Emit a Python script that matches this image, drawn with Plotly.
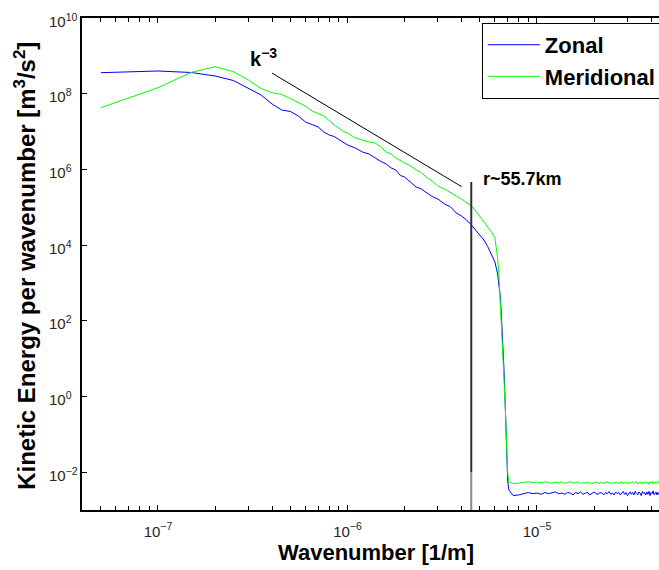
import plotly.graph_objects as go
import numpy as np

# ---- data ----
wavenumber = [0.05e-6, 0.10e-6, 0.15e-6, 0.20e-6, 0.25e-6, 0.30e-6, 0.35e-6, 0.40e-6, 0.45e-6, 0.50e-6,
              0.55e-6, 0.60e-6, 0.65e-6, 0.70e-6, 0.75e-6, 0.80e-6, 0.85e-6, 0.90e-6, 0.95e-6, 1.00e-6,
              1.1e-6, 1.2e-6, 1.3e-6, 1.4e-6, 1.5e-6, 1.6e-6, 1.7e-6, 1.8e-6, 1.9e-6, 2.0e-6,
              2.15e-6, 2.3e-6, 2.45e-6, 2.6e-6, 2.8e-6, 3.0e-6,
              3.25e-6, 3.5e-6, 3.75e-6, 4.0e-6, 4.25e-6, 4.5e-6, 4.75e-6, 5.0e-6,
              5.25e-6, 5.5e-6, 5.8e-6, 6.0e-6,
              6.2e-6, 6.3e-6, 6.4e-6, 6.5e-6, 6.6e-6, 6.7e-6, 6.8e-6, 6.9e-6, 7.0e-6, 7.1e-6]

zonal = [3.59e8, 3.98e8, 3.63e8, 2.94e8, 2.23e8, 1.42e8, 9.25e7, 5.35e7, 3.71e7, 3.39e7,
         2.58e7, 1.79e7, 1.49e7, 1.32e7, 9.73e6, 8.11e6, 7.40e6, 6.17e6, 4.98e6, 4.42e6,
         3.67e6, 2.88e6, 2.55e6, 2.00e6, 1.62e6, 1.39e6, 1.09e6, 9.64e5, 6.90e5, 6.30e5,
         4.65e5, 3.43e5, 3.03e5, 2.53e5, 1.92e5, 1.65e5,
         1.22e5, 1.02e5, 7.05e4, 5.87e4, 4.60e4, 3.40e4, 2.51e4, 1.85e4,
         1.36e4, 9.08e3, 5.15e3, 3.58e3,
         1.72e3, 998, 426, 119, 27.5, 5.01, 0.596, 0.0524, 6.22e-3, 3.39e-3]

meridional = [4.27e7, 1.44e8, 3.67e8, 5.17e8, 3.81e8, 2.30e8, 1.37e8, 1.06e8, 9.53e7, 7.47e7,
              6.04e7, 4.73e7, 3.49e7, 2.91e7, 2.58e7, 1.96e7, 1.49e7, 1.24e7, 1.00e7, 9.16e6,
              6.76e6, 5.98e6, 5.30e6, 4.98e6, 3.91e6, 2.88e6, 2.55e6, 2.00e6, 1.67e6, 1.48e6,
              1.23e6, 9.64e5, 8.28e5, 6.30e5, 4.94e5, 3.64e5,
              3.03e5, 2.38e5, 1.98e5, 1.65e5, 1.29e5, 1.08e5, 7.96e4, 5.62e4,
              4.07e4, 3.01e4, 2.09e4, 1.54e4,
              4.56e3, 1.62e3, 355, 105, 23.0, 4.44, 0.596, 0.0710, 0.0101, 5.51e-3]

tail_wavenumber = [7.5e-6, 8.0e-6, 8.5e-6, 9.0e-6, 9.5e-6, 10.0e-6, 10.5e-6, 11.0e-6, 11.5e-6, 12.0e-6,
                   12.5e-6, 13.0e-6, 13.5e-6, 14.0e-6, 14.5e-6, 15.0e-6, 15.5e-6, 16.0e-6, 16.5e-6, 17.0e-6,
                   17.5e-6, 18.0e-6, 18.5e-6, 19.0e-6, 19.5e-6, 20.0e-6, 20.5e-6, 21.0e-6, 21.5e-6, 22.0e-6,
                   22.5e-6, 23.0e-6, 23.5e-6, 24.0e-6, 24.5e-6, 25.0e-6, 25.5e-6, 26.0e-6, 26.5e-6, 27.0e-6,
                   27.5e-6, 28.0e-6, 28.5e-6, 29.0e-6, 29.5e-6, 30.0e-6, 30.5e-6, 31.0e-6, 31.5e-6, 32.0e-6,
                   32.5e-6, 33.0e-6, 33.5e-6, 34.0e-6, 34.5e-6, 35.0e-6, 35.5e-6, 36.0e-6, 36.5e-6, 37.0e-6,
                   37.5e-6, 38.0e-6, 38.5e-6, 39.0e-6, 39.5e-6, 40.0e-6, 40.5e-6, 41.0e-6, 41.5e-6, 42.0e-6,
                   42.5e-6, 43.0e-6, 43.5e-6, 44.0e-6, 44.5e-6, 45.0e-6]

zonal_tail = [2.4e-3, 2.5e-3, 2.7e-3, 2.9e-3, 2.7e-3, 2.8e-3, 2.6e-3, 2.9e-3, 2.7e-3, 2.8e-3,
              3.0e-3, 2.7e-3, 2.8e-3, 2.6e-3, 2.9e-3, 2.8e-3, 2.5e-3, 2.9e-3, 2.7e-3, 3.0e-3,
              2.6e-3, 2.8e-3, 2.9e-3, 2.5e-3, 2.8e-3, 3.0e-3, 2.7e-3, 2.6e-3, 2.9e-3, 2.8e-3,
              2.5e-3, 2.9e-3, 2.7e-3, 3.1e-3, 2.6e-3, 2.8e-3, 2.5e-3, 3.0e-3, 2.7e-3, 2.9e-3,
              2.5e-3, 2.8e-3, 3.1e-3, 2.6e-3, 2.9e-3, 2.4e-3, 2.8e-3, 3.0e-3, 2.6e-3, 2.9e-3,
              2.5e-3, 3.1e-3, 2.7e-3, 2.5e-3, 3.0e-3, 2.8e-3, 2.4e-3, 3.1e-3, 2.7e-3, 2.9e-3,
              2.5e-3, 3.0e-3, 2.6e-3, 3.1e-3, 2.4e-3, 2.9e-3, 2.7e-3, 3.2e-3, 2.5e-3, 2.8e-3,
              3.0e-3, 2.5e-3, 2.9e-3, 2.6e-3, 3.1e-3, 2.7e-3]

meridional_tail = [5.0e-3, 5.1e-3, 5.4e-3, 5.6e-3, 5.3e-3, 5.5e-3, 5.2e-3, 5.6e-3, 5.3e-3, 5.1e-3,
                   5.4e-3, 5.2e-3, 5.5e-3, 5.0e-3, 5.3e-3, 5.6e-3, 5.1e-3, 5.2e-3, 5.5e-3, 5.0e-3,
                   5.3e-3, 5.1e-3, 5.4e-3, 5.2e-3, 4.9e-3, 5.3e-3, 5.5e-3, 5.0e-3, 5.2e-3, 5.4e-3,
                   5.0e-3, 5.3e-3, 5.6e-3, 5.1e-3, 5.2e-3, 4.9e-3, 5.4e-3, 5.1e-3, 5.5e-3, 5.0e-3,
                   5.2e-3, 5.6e-3, 4.9e-3, 5.3e-3, 5.1e-3, 5.5e-3, 4.8e-3, 5.4e-3, 5.2e-3, 5.6e-3,
                   5.0e-3, 5.3e-3, 5.7e-3, 4.9e-3, 5.2e-3, 5.5e-3, 5.0e-3, 5.6e-3, 4.9e-3, 5.3e-3,
                   5.6e-3, 5.0e-3, 5.4e-3, 4.8e-3, 5.5e-3, 5.2e-3, 5.7e-3, 4.9e-3, 5.3e-3, 5.6e-3,
                   5.0e-3, 5.4e-3, 5.1e-3, 5.7e-3, 4.9e-3, 5.3e-3]

# reference slope line k^-3 and cutoff line
slope_k = [4.0e-7, 4.0e-6]
slope_E = [3.5e8, 3.5e5]
cutoff_k = [4.5e-6, 4.5e-6]
cutoff_E_dark = [4.65e5, 1.0e-2]
cutoff_E_light = [1.0e-2, 1.0e-3]

x_tickvals = [1e-7, 1e-6, 1e-5]
x_ticktext = ["10<sup>\u22127</sup>", "10<sup>\u22126</sup>", "10<sup>\u22125</sup>"]
x_minorvals = [4e-8, 5e-8, 6e-8, 7e-8, 8e-8, 9e-8,
               2e-7, 3e-7, 4e-7, 5e-7, 6e-7, 7e-7, 8e-7, 9e-7,
               2e-6, 3e-6, 4e-6, 5e-6, 6e-6, 7e-6, 8e-6, 9e-6,
               2e-5, 3e-5, 4e-5]
y_tickvals = [1e-2, 1e0, 1e2, 1e4, 1e6, 1e8, 1e10]
y_ticktext = ["10<sup>\u22122</sup>", "10<sup>0</sup>", "10<sup>2</sup>", "10<sup>4</sup>",
              "10<sup>6</sup>", "10<sup>8</sup>", "10<sup>10</sup>"]

FONT = "Liberation Sans, Arial, sans-serif"

k_all = wavenumber + tail_wavenumber
fig = go.Figure()
fig.add_trace(go.Scatter(x=k_all, y=zonal + zonal_tail, mode="lines", name="Zonal",
                         line=dict(color="#0000ff", width=1)))
fig.add_trace(go.Scatter(x=k_all, y=meridional + meridional_tail, mode="lines", name="Meridional",
                         line=dict(color="#00ff00", width=1)))
fig.add_trace(go.Scatter(x=slope_k, y=slope_E, mode="lines", showlegend=False,
                         line=dict(color="black", width=1)))
fig.add_trace(go.Scatter(x=cutoff_k, y=cutoff_E_dark, mode="lines", showlegend=False,
                         line=dict(color="#303030", width=2)))
fig.add_trace(go.Scatter(x=cutoff_k, y=cutoff_E_light, mode="lines", showlegend=False,
                         line=dict(color="#8a8a8a", width=2)))

axis_common = dict(type="log", showline=True, linecolor="black", linewidth=1.5,
                   ticks="inside", ticklen=5, tickwidth=1, tickcolor="black",
                   showgrid=False, zeroline=False)

fig.update_layout(
    width=659, height=570,
    margin=dict(l=82, r=0, t=18, b=60, autoexpand=False),
    paper_bgcolor="white", plot_bgcolor="white",
    xaxis=dict(range=[-7.401, -4.356], tickmode="array", tickvals=x_tickvals, ticktext=x_ticktext,
               mirror="ticks", ticklabelstandoff=7,
               tickfont=dict(family=FONT, size=15, color="#262626"),
               minor=dict(ticks="inside", ticklen=4, tickcolor="black", tickvals=x_minorvals, showgrid=False),
               **axis_common),
    yaxis=dict(range=[-3, 10], tickmode="array", tickvals=y_tickvals,
               mirror=False, showticklabels=False,
               **axis_common),
    legend=dict(x=0.693, y=0.99, xanchor="left", yanchor="top",
                bgcolor="white", bordercolor="black", borderwidth=1,
                font=dict(family=FONT, size=22, color="black", weight="bold"),
                itemwidth=52, tracegroupgap=0),
    showlegend=True,
)

# y tick labels: left-aligned like the reference
for v, t in zip(y_tickvals, y_ticktext):
    fig.add_annotation(text=t, xref="paper", yref="y", x=-0.0607, y=np.log10(v),
                       xanchor="left", yanchor="middle", showarrow=False, yshift=-2,
                       font=dict(family=FONT, size=15, color="#262626"))

fig.add_annotation(text="Wavenumber [1/m]", xref="paper", yref="paper",
                   x=0.5095, y=-0.087, xanchor="center", yanchor="middle", showarrow=False,
                   font=dict(family=FONT, size=22, color="black", weight="bold"))
fig.add_annotation(text="Kinetic Energy per wavenumber [m<sup>3</sup>/s<sup>2</sup>]",
                   xref="paper", yref="paper", x=-0.099, y=0.496, textangle=-90,
                   xanchor="center", yanchor="middle", showarrow=False,
                   font=dict(family=FONT, size=24, color="black", weight="bold"))
fig.add_annotation(text="k<sup>\u22123</sup>", x=np.log10(3.0e-7), y=np.log10(9.0e8),
                   xanchor="left", yanchor="middle", showarrow=False,
                   font=dict(family=FONT, size=20, color="black", weight="bold"))
fig.add_annotation(text="r~55.7km", x=np.log10(5.06e-6), y=5.746,
                   xanchor="left", yanchor="middle", showarrow=False,
                   font=dict(family=FONT, size=18, color="black", weight="bold"))

fig.write_html("out.html")
